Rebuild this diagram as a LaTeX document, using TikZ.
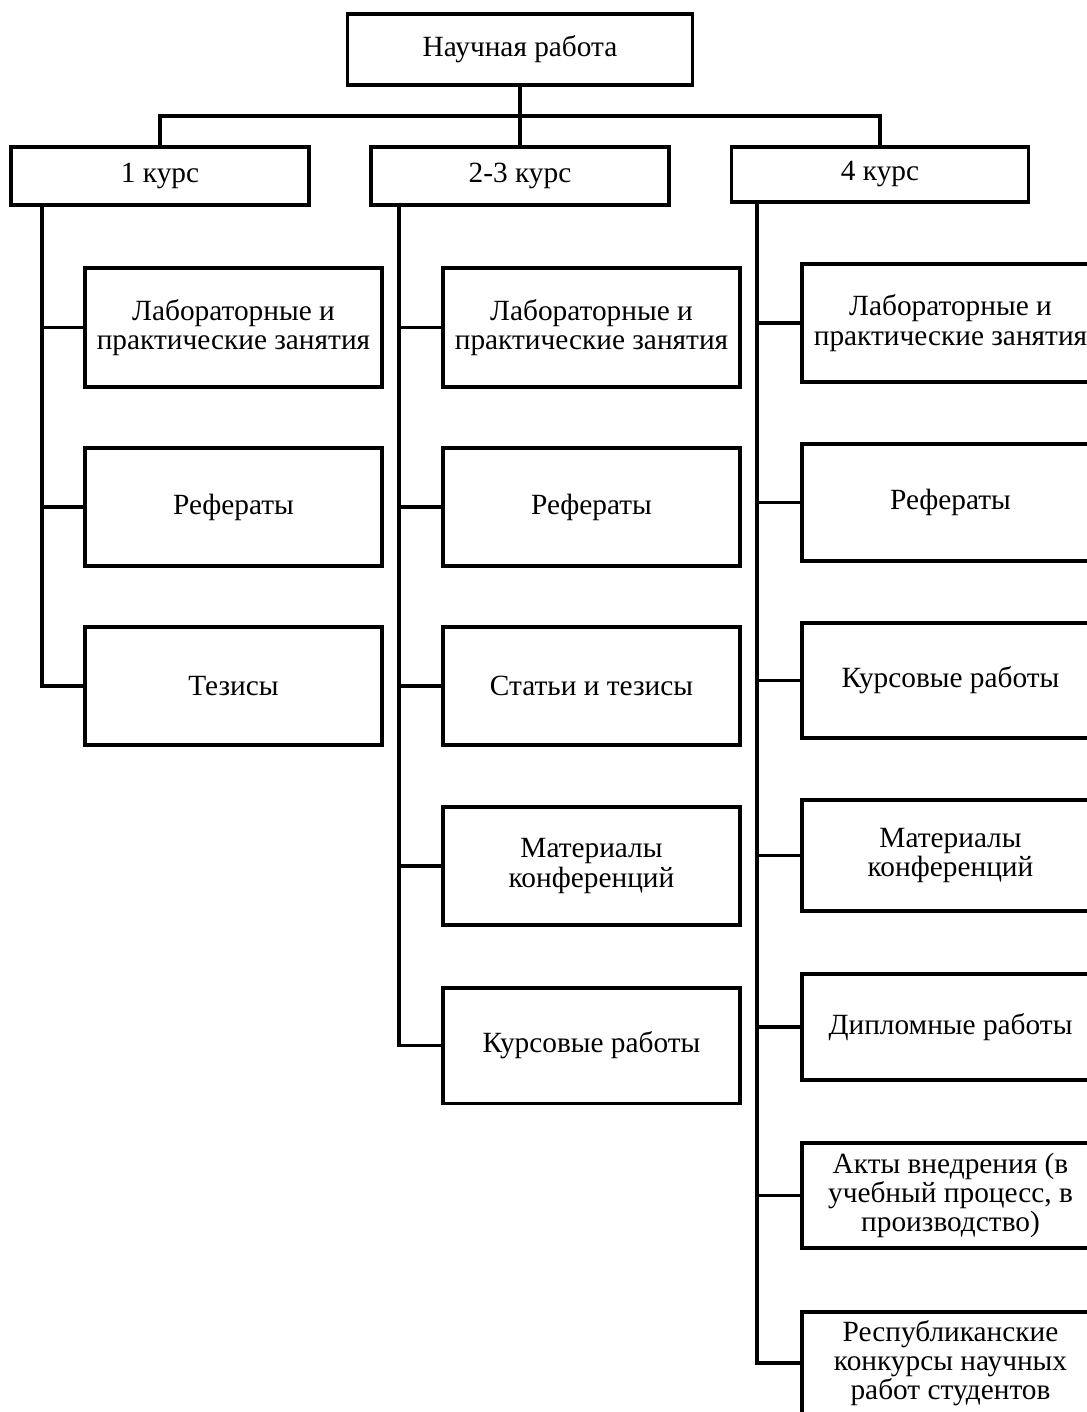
\documentclass[tikz,border=0pt]{standalone}
\usepackage{fontspec}
\setmainfont{Liberation Serif}
\begin{document}
\begin{tikzpicture}[x=0.75pt,y=-0.75pt,
  box/.style={draw,line width=2.5pt,inner sep=0pt,align=center,
    font=\fontsize{22}{22}\selectfont},
  colbox/.style={box,minimum width=222.75pt},
  wire/.style={line width=2.5pt}]
\useasboundingbox (0,0) rectangle (1087,1412);
\clip (0,0) rectangle (1087,1412);
% top
\node[box,minimum width=258.75pt,minimum height=53.25pt] (top) at (520,49.5) {Научная работа};
\node[box,minimum width=223.5pt,minimum height=43.5pt] (c1) at (160,176) {1 курс};
\node[box,minimum width=223.5pt,minimum height=43.5pt] (c2) at (520,176) {2-3 курс};
\node[box,minimum width=222.75pt,minimum height=41.25pt] (c3) at (880,174.5) {4 курс};
\coordinate (bus) at (520,116);
\draw[wire] (top.south) -- (bus);
\draw[wire] (c1.north) |- (bus) -| (c3.north);
\draw[wire] (bus) -- (c2.north);
% column 1
\node[colbox,minimum height=89pt] (a1) at (233.5,327.5) {Лабораторные и\\практические занятия};
\node[colbox,minimum height=88.5pt] (a2) at (233.5,507) {Рефераты};
\node[colbox,minimum height=88.5pt] (a3) at (233.5,686) {Тезисы};
% column 2
\node[colbox,minimum height=89pt] (b1) at (591.5,327.5) {Лабораторные и\\практические занятия};
\node[colbox,minimum height=88.5pt] (b2) at (591.5,507) {Рефераты};
\node[colbox,minimum height=88.5pt] (b3) at (591.5,686) {Статьи и тезисы};
\node[colbox,minimum height=88.5pt] (b4) at (591.5,866) {Материалы\\конференций};
\node[colbox,minimum height=86.5pt] (b5) at (591.5,1045.5) {Курсовые работы};
% column 3
\node[colbox,minimum height=88.5pt] (d1) at (950.5,323) {Лабораторные и\\практические занятия};
\node[colbox,minimum height=87.75pt] (d2) at (950.5,502.5) {Рефераты};
\node[colbox,minimum height=86.25pt] (d3) at (950.5,680.5) {Курсовые работы};
\node[colbox,minimum height=83.25pt] (d4) at (950.5,855.5) {Материалы\\конференций};
\node[colbox,minimum height=79.5pt] (d5) at (950.5,1027) {Дипломные работы};
\node[colbox,minimum height=78.75pt] (d6) at (950.5,1195.5) {Акты внедрения (в\\учебный процесс, в\\производство)};
\node[colbox,minimum height=76.5pt] (d7) at (950.5,1363) {Республиканские\\конкурсы научных\\работ студентов};
% trunks
\coordinate (t1) at (42,205);
\coordinate (t2) at (399,205);
\coordinate (t3) at (757,202);
\draw[wire] (t1) |- (a3.west);
\foreach \n in {a1,a2} \draw[wire] (t1 |- \n.west) -- (\n.west);
\draw[wire] (t2) |- (b5.west);
\foreach \n in {b1,b2,b3,b4} \draw[wire] (t2 |- \n.west) -- (\n.west);
\draw[wire] (t3) |- (d7.west);
\foreach \n in {d1,d2,d3,d4,d5,d6} \draw[wire] (t3 |- \n.west) -- (\n.west);
\end{tikzpicture}
\end{document}
